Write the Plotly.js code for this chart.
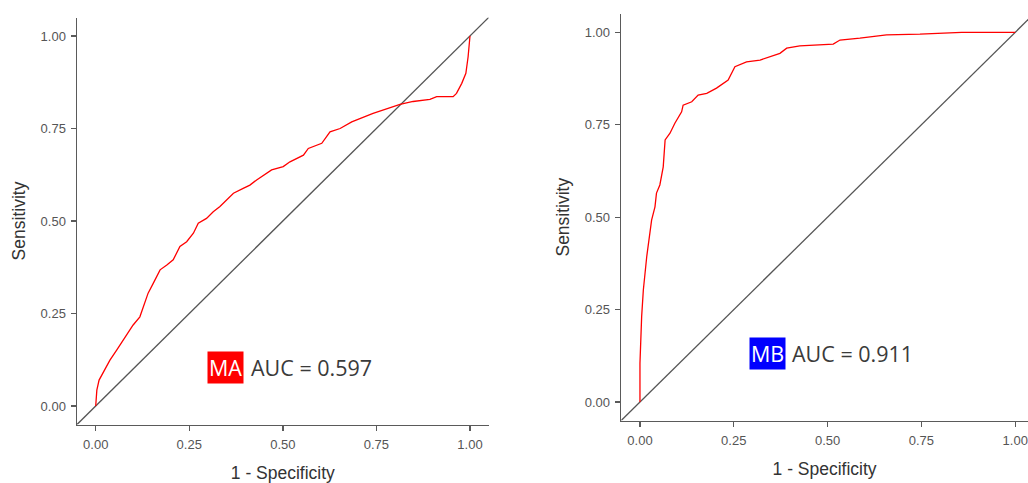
<!DOCTYPE html>
<html>
<head>
<meta charset="utf-8">
<script src="https://cdn.plot.ly/plotly-3.0.1.min.js"></script>
<style>html,body{margin:0;padding:0;background:#fff;}#chart{width:1028px;height:483px;}</style>
</head>
<body>
<div id="chart"></div>
<script>
// ROC curve MA (1 - specificity, sensitivity)
const maFpr = [0, 0.003, 0.009, 0.025, 0.038, 0.056, 0.074, 0.087, 0.100, 0.118, 0.127, 0.140, 0.154, 0.172, 0.190, 0.207, 0.225, 0.243, 0.261, 0.274, 0.296, 0.314, 0.332, 0.350, 0.368, 0.394, 0.412, 0.430, 0.470, 0.501, 0.519, 0.555, 0.568, 0.604, 0.626, 0.653, 0.684, 0.741, 0.782, 0.813, 0.848, 0.893, 0.911, 0.955, 0.964, 0.978, 0.989, 0.995, 1.0];
const maTpr = [0, 0.043, 0.070, 0.100, 0.124, 0.151, 0.178, 0.196, 0.219, 0.241, 0.268, 0.305, 0.332, 0.368, 0.381, 0.395, 0.431, 0.444, 0.467, 0.494, 0.507, 0.525, 0.539, 0.557, 0.575, 0.588, 0.597, 0.611, 0.638, 0.647, 0.660, 0.678, 0.696, 0.710, 0.741, 0.750, 0.768, 0.791, 0.805, 0.815, 0.823, 0.829, 0.836, 0.836, 0.845, 0.872, 0.899, 0.944, 1.0];
// ROC curve MB
const mbFpr = [0, 0, 0.0045, 0.009, 0.018, 0.027, 0.031, 0.040, 0.044, 0.053, 0.062, 0.067, 0.080, 0.093, 0.111, 0.115, 0.138, 0.155, 0.178, 0.204, 0.235, 0.253, 0.284, 0.320, 0.346, 0.373, 0.391, 0.426, 0.515, 0.533, 0.586, 0.657, 0.746, 0.835, 0.857, 1.0];
const mbTpr = [0, 0.105, 0.231, 0.303, 0.393, 0.456, 0.492, 0.528, 0.565, 0.587, 0.636, 0.709, 0.727, 0.754, 0.785, 0.803, 0.812, 0.830, 0.835, 0.849, 0.871, 0.907, 0.920, 0.925, 0.934, 0.943, 0.957, 0.963, 0.968, 0.979, 0.984, 0.993, 0.995, 0.999, 1.0, 1.0];
const modelNames = ["MA", "MB"];
const aucValues = ["0.597", "0.911"];
const tickVals = [0, 0.25, 0.5, 0.75, 1];
const tickText = ["0.00", "0.25", "0.50", "0.75", "1.00"];

const axisRange = [-0.05, 1.05];
const axisRange2x = [-0.05, 1.034];

const W = 1028, H = 483;
const tickFont = {family: "Liberation Sans, Arial, sans-serif", size: 13, color: "#555555"};
const titleFont = {family: "Liberation Sans, Arial, sans-serif", size: 17.5, color: "#333333"};
const annFont = {family: "Open Sans, sans-serif", size: 21.5, color: "#3a3a3a"};

function axisBase(extra) {
  return Object.assign({
    showgrid: false, zeroline: false, showline: true, linecolor: "#5a5a5a", linewidth: 1.5,
    ticks: "outside", ticklen: 5, tickwidth: 1.3, tickcolor: "#5a5a5a", ticklabelstandoff: 2,
    tickvals: tickVals, ticktext: tickText, tickfont: tickFont, automargin: false, fixedrange: true
  }, extra);
}

const traces = [
  {x: axisRange, y: axisRange, xaxis: "x", yaxis: "y", mode: "lines", line: {color: "#555555", width: 1.3}, hoverinfo: "skip"},
  {x: maFpr, y: maTpr, xaxis: "x", yaxis: "y", mode: "lines", line: {color: "#ff0000", width: 1.3, shape: "linear"}},
  {x: axisRange, y: axisRange, xaxis: "x2", yaxis: "y2", mode: "lines", line: {color: "#555555", width: 1.3}, hoverinfo: "skip"},
  {x: mbFpr, y: mbTpr, xaxis: "x2", yaxis: "y2", mode: "lines", line: {color: "#ff0000", width: 1.3, shape: "linear"}}
];

const layout = {
  width: W, height: H,
  margin: {l: 0, r: 0, t: 0, b: 0, pad: 0},
  paper_bgcolor: "#ffffff", plot_bgcolor: "#ffffff",
  showlegend: false,
  xaxis: axisBase({domain: [77 / W, 488.7 / W], range: axisRange, anchor: "y",
    title: {text: "1 - Specificity", font: titleFont, standoff: 16}}),
  yaxis: axisBase({domain: [58.5 / H, 465.5 / H], range: axisRange, anchor: "x",
    title: {text: "Sensitivity", font: titleFont, standoff: 10}}),
  xaxis2: axisBase({domain: [621.2 / W, 1], range: axisRange2x, anchor: "y2",
    title: {text: "1 - Specificity", font: titleFont, standoff: 16}}),
  yaxis2: axisBase({domain: [62.5 / H, 469.2 / H], range: axisRange, anchor: "x2",
    title: {text: "Sensitivity", font: titleFont, standoff: 10}}),
  annotations: [
    {xref: "x", yref: "y", x: 0.297, y: 0.103, xanchor: "left", yanchor: "middle", text: modelNames[0],
      showarrow: false, bgcolor: "#ff0000", font: Object.assign({}, annFont, {color: "#ffffff"}), borderpad: 1},
    {xref: "x", yref: "y", x: 0.41, y: 0.103, xanchor: "left", yanchor: "middle", text: "AUC = " + aucValues[0],
      showarrow: false, font: annFont},
    {xref: "x2", yref: "y2", x: 0.291, y: 0.13, xanchor: "left", yanchor: "middle", text: modelNames[1],
      showarrow: false, bgcolor: "#0000ff", font: Object.assign({}, annFont, {color: "#ffffff"}), borderpad: 1},
    {xref: "x2", yref: "y2", x: 0.40, y: 0.13, xanchor: "left", yanchor: "middle", text: "AUC = " + aucValues[1],
      showarrow: false, font: annFont}
  ]
};

Plotly.newPlot("chart", traces, layout, {staticPlot: true, displayModeBar: false});
</script>
</body>
</html>
